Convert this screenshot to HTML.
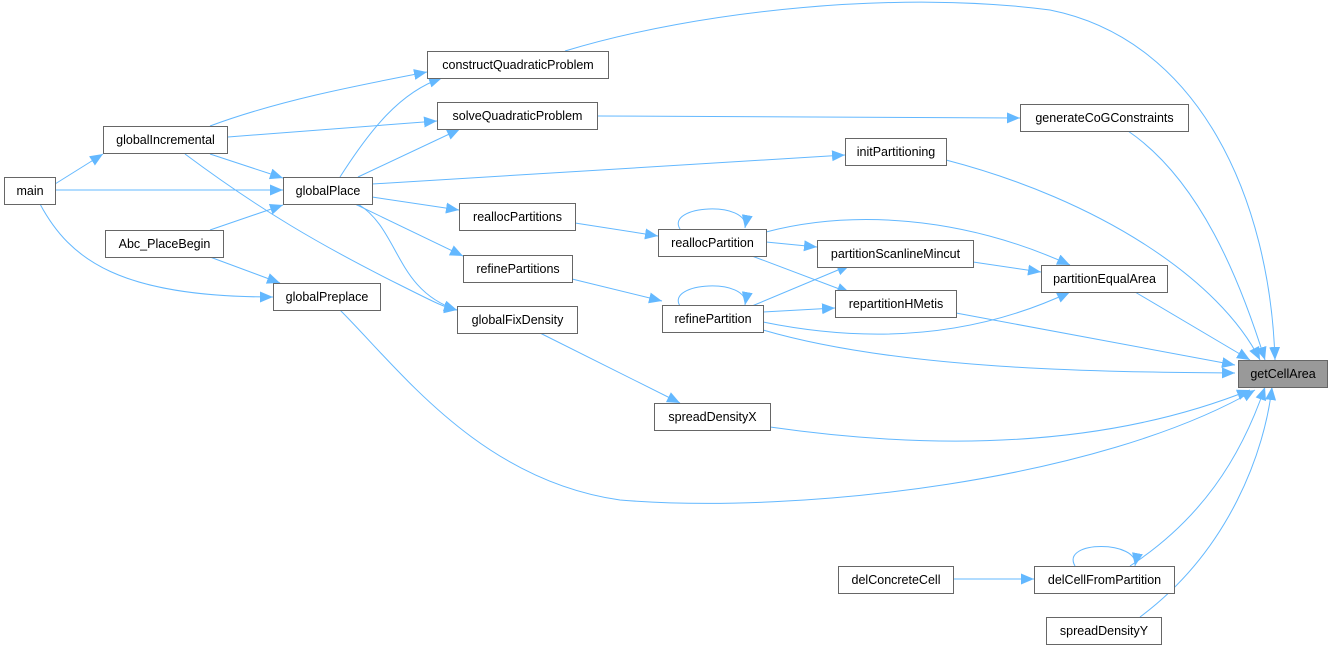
<!DOCTYPE html>
<html><head><meta charset="utf-8"><style>
html,body{margin:0;padding:0;background:#fff;}
svg{display:block;}
text{font-family:"Liberation Sans",Arial,sans-serif;font-size:12.5px;fill:#000;}
</style></head><body>
<svg width="1330" height="650" viewBox="0 0 1330 650" xmlns="http://www.w3.org/2000/svg">
<defs>
<marker id="a" markerUnits="userSpaceOnUse" markerWidth="15" markerHeight="12" refX="13" refY="5.5" orient="auto">
<path d="M0,0 L13,5.5 L0,11 z" fill="#63b8ff"/>
</marker>
</defs>
<g fill="none" stroke="#63b8ff" stroke-width="1" marker-end="url(#a)">
<path d="M55,184 L103,154"/>
<path d="M55,190 L283,190"/>
<path d="M40,204 C70,260 120,297 273,297"/>
<path d="M210,126 C280,100 360,85 427,72"/>
<path d="M228,137 L437,121"/>
<path d="M210,154 L283,178"/>
<path d="M185,154 C260,210 320,245 400,285 C430,300 445,308 457,310"/>
<path d="M210,230 L283,205"/>
<path d="M210,257 L280,283"/>
<path d="M340,177 C370,130 400,92 442,78"/>
<path d="M358,177 L460,129"/>
<path d="M372,184 L845,155"/>
<path d="M372,197 L459,210"/>
<path d="M355,204 L463,256"/>
<path d="M358,204 C400,230 395,290 457,310"/>
<path d="M565,51 C700,10 900,-10 1050,10 C1200,40 1270,200 1275,360"/>
<path d="M597,116 L1020,118"/>
<path d="M1128,131 C1200,180 1240,280 1265,360"/>
<path d="M946,160 C1100,200 1220,280 1260,360"/>
<path d="M575,223 L658,236"/>
<path d="M572,279 L662,301"/>
<path d="M540,333 L680,403"/>
<path d="M680,229 C665,205 750,200 745,228"/>
<path d="M766,242 L817,247"/>
<path d="M752,256 L850,293"/>
<path d="M766,232 C850,210 960,215 1070,265"/>
<path d="M973,262 L1041,272"/>
<path d="M1135,292 L1250,360"/>
<path d="M680,306 C665,282 750,277 745,305"/>
<path d="M752,306 L850,265"/>
<path d="M763,312 L835,308"/>
<path d="M763,322 C900,350 1000,325 1070,292"/>
<path d="M763,330 C900,370 1100,372 1235,373"/>
<path d="M956,313 L1235,365"/>
<path d="M770,427 C1000,460 1150,430 1250,390"/>
<path d="M340,310 C400,370 480,480 620,500 C800,515 1100,480 1255,390"/>
<path d="M953,579 L1034,579"/>
<path d="M1075,566 C1060,540 1140,540 1135,566"/>
<path d="M1130,566 C1200,520 1240,460 1265,387"/>
<path d="M1140,617 C1230,550 1265,450 1272,387"/>
</g>
<g stroke="#666" stroke-width="1" fill="#fff">
<rect x="4.5" y="177.5" width="51" height="27"/>
<rect x="103.5" y="126.5" width="124" height="27"/>
<rect x="105.5" y="230.5" width="118" height="27"/>
<rect x="283.5" y="177.5" width="89" height="27"/>
<rect x="273.5" y="283.5" width="107" height="27"/>
<rect x="427.5" y="51.5" width="181" height="27"/>
<rect x="437.5" y="102.5" width="160" height="27"/>
<rect x="459.5" y="203.5" width="116" height="27"/>
<rect x="463.5" y="255.5" width="109" height="27"/>
<rect x="457.5" y="306.5" width="120" height="27"/>
<rect x="845.5" y="138.5" width="101" height="27"/>
<rect x="1020.5" y="104.5" width="168" height="27"/>
<rect x="658.5" y="229.5" width="108" height="27"/>
<rect x="662.5" y="305.5" width="101" height="27"/>
<rect x="817.5" y="240.5" width="156" height="27"/>
<rect x="835.5" y="290.5" width="121" height="27"/>
<rect x="1041.5" y="265.5" width="126" height="27"/>
<rect x="654.5" y="403.5" width="116" height="27"/>
<rect x="1238.5" y="360.5" width="89" height="27" fill="#999"/>
<rect x="838.5" y="566.5" width="115" height="27"/>
<rect x="1034.5" y="566.5" width="140" height="27"/>
<rect x="1046.5" y="617.5" width="115" height="27"/>
</g>
<g text-anchor="middle">
<text x="30" y="195">main</text>
<text x="165.5" y="144">globalIncremental</text>
<text x="164.5" y="248">Abc_PlaceBegin</text>
<text x="328" y="195">globalPlace</text>
<text x="327" y="301">globalPreplace</text>
<text x="518" y="69">constructQuadraticProblem</text>
<text x="517.5" y="120">solveQuadraticProblem</text>
<text x="517.5" y="221">reallocPartitions</text>
<text x="518" y="273">refinePartitions</text>
<text x="517.5" y="324">globalFixDensity</text>
<text x="896" y="156">initPartitioning</text>
<text x="1104.5" y="122">generateCoGConstraints</text>
<text x="712.5" y="247">reallocPartition</text>
<text x="713" y="323">refinePartition</text>
<text x="895.5" y="258">partitionScanlineMincut</text>
<text x="896" y="308">repartitionHMetis</text>
<text x="1104.5" y="283">partitionEqualArea</text>
<text x="712.5" y="421">spreadDensityX</text>
<text x="1283" y="378">getCellArea</text>
<text x="896" y="584">delConcreteCell</text>
<text x="1104.5" y="584">delCellFromPartition</text>
<text x="1104" y="635">spreadDensityY</text>
</g>
</svg>
</body></html>
